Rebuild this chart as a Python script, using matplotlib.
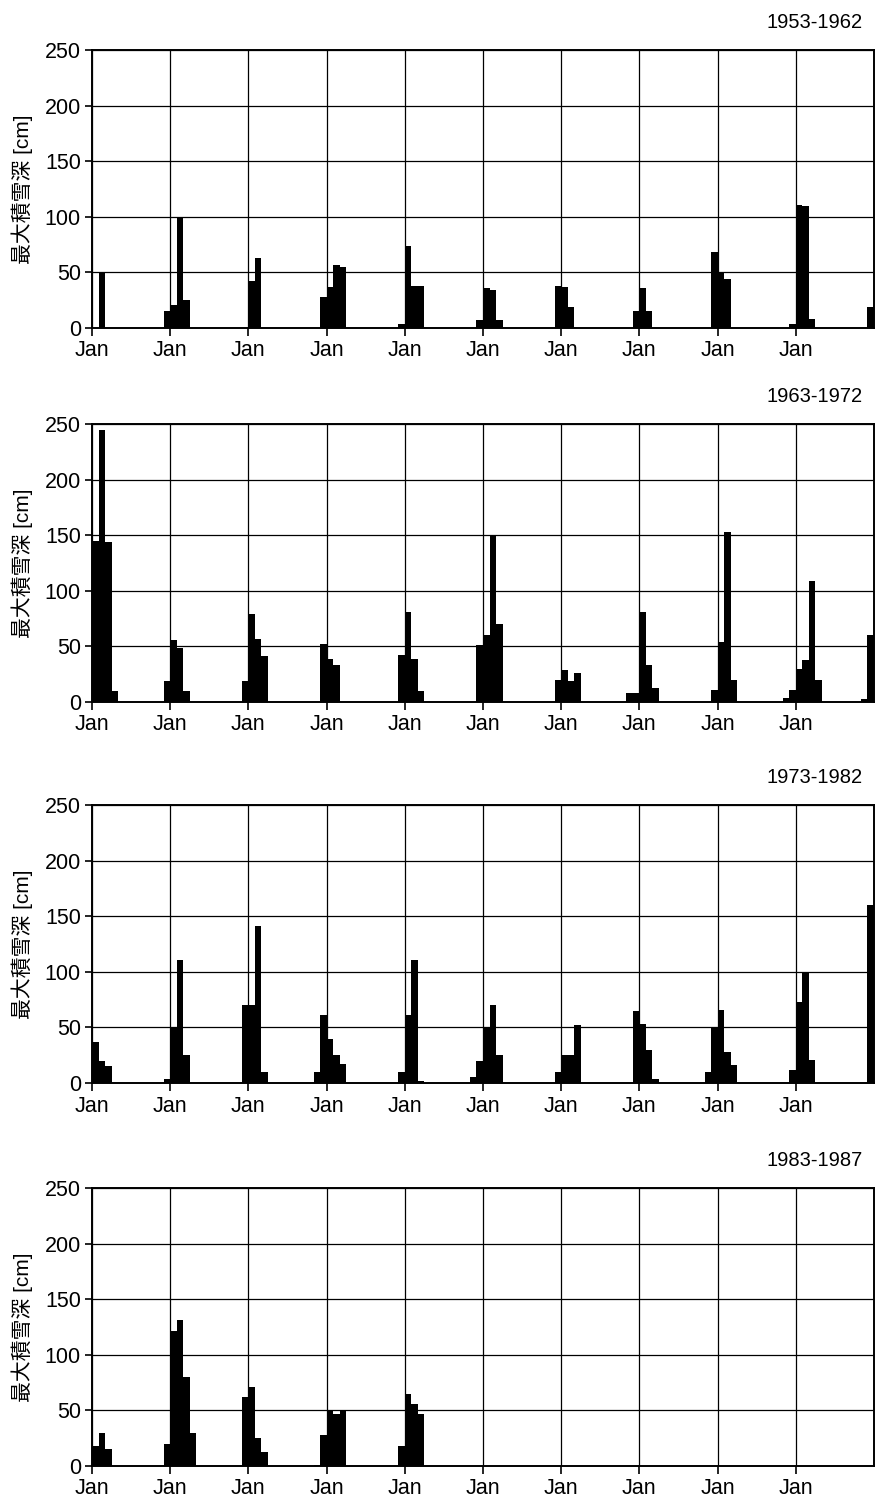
import numpy as np
import matplotlib
matplotlib.use("Agg")
import matplotlib.pyplot as plt

plt.rcParams['font.family'] = ['Liberation Sans', 'Noto Sans CJK JP', 'DejaVu Sans']

# monthly maximum snow depth [cm], one row per year (Jan..Dec)
depth_1953_1962 = [
    [0, 50, 0, 0, 0, 0, 0, 0, 0, 0, 0, 15],
    [21, 100, 25, 0, 0, 0, 0, 0, 0, 0, 0, 0],
    [42, 63, 0, 0, 0, 0, 0, 0, 0, 0, 0, 28],
    [37, 57, 55, 0, 0, 0, 0, 0, 0, 0, 0, 4],
    [74, 38, 38, 0, 0, 0, 0, 0, 0, 0, 0, 7],
    [36, 34, 7, 0, 0, 0, 0, 0, 0, 0, 0, 38],
    [37, 19, 0, 0, 0, 0, 0, 0, 0, 0, 0, 15],
    [36, 15, 0, 0, 0, 0, 0, 0, 0, 0, 0, 68],
    [50, 44, 0, 0, 0, 0, 0, 0, 0, 0, 0, 4],
    [111, 110, 8, 0, 0, 0, 0, 0, 0, 0, 0, 19],
]
depth_1963_1972 = [
    [145, 245, 144, 10, 0, 0, 0, 0, 0, 0, 0, 19],
    [56, 49, 10, 0, 0, 0, 0, 0, 0, 0, 0, 19],
    [79, 57, 41, 0, 0, 0, 0, 0, 0, 0, 0, 52],
    [39, 33, 0, 0, 0, 0, 0, 0, 0, 0, 0, 42],
    [81, 39, 10, 0, 0, 0, 0, 0, 0, 0, 0, 51],
    [60, 150, 70, 0, 0, 0, 0, 0, 0, 0, 0, 20],
    [29, 19, 26, 0, 0, 0, 0, 0, 0, 0, 8, 8],
    [81, 33, 13, 0, 0, 0, 0, 0, 0, 0, 0, 11],
    [54, 153, 20, 0, 0, 0, 0, 0, 0, 0, 4, 11],
    [30, 38, 109, 20, 0, 0, 0, 0, 0, 0, 3, 60],
]
depth_1973_1982 = [
    [37, 20, 15, 0, 0, 0, 0, 0, 0, 0, 0, 4],
    [50, 111, 25, 0, 0, 0, 0, 0, 0, 0, 0, 70],
    [70, 141, 10, 0, 0, 0, 0, 0, 0, 0, 10, 61],
    [40, 25, 17, 0, 0, 0, 0, 0, 0, 0, 0, 10],
    [61, 111, 2, 0, 0, 0, 0, 0, 0, 0, 5, 20],
    [50, 70, 25, 0, 0, 0, 0, 0, 0, 0, 0, 10],
    [25, 25, 52, 0, 0, 0, 0, 0, 0, 0, 0, 65],
    [53, 30, 4, 0, 0, 0, 0, 0, 0, 0, 10, 50],
    [66, 28, 16, 0, 0, 0, 0, 0, 0, 0, 0, 12],
    [73, 100, 21, 0, 0, 0, 0, 0, 0, 0, 0, 160],
]
depth_1983_1987 = [
    [18, 30, 15, 0, 0, 0, 0, 0, 0, 0, 0, 20],
    [121, 131, 80, 30, 0, 0, 0, 0, 0, 0, 0, 62],
    [71, 25, 13, 0, 0, 0, 0, 0, 0, 0, 1, 28],
    [50, 47, 50, 0, 0, 0, 0, 0, 0, 0, 0, 18],
    [65, 56, 47, 0, 0, 0, 0, 0, 0, 0, 0, 0],
]

periods = ['1953-1962', '1963-1972', '1973-1982', '1983-1987']
panels = [depth_1953_1962, depth_1963_1972, depth_1973_1982, depth_1983_1987]
ylabel = '最大積雪深 [cm]'

fig = plt.figure(figsize=(8.76, 15.07), dpi=100)
W, H = 876, 1507
left, right = 92, 874
bottoms = [328, 702, 1083, 1466]
ax_h = 278

for period, rows, bot in zip(periods, panels, bottoms):
    ax = fig.add_axes([left / W, 1 - bot / H, (right - left) / W, ax_h / H])
    vals = np.array(rows).ravel()
    months = np.arange(len(vals))
    ax.bar(months, vals, width=1.0, align='edge', color='black', linewidth=0)

    ax.set_xlim(0, 120)
    ax.set_ylim(0, 250)
    ax.set_xticks(np.arange(0, 120, 12))
    ax.set_xticklabels(['Jan'] * 10)
    ax.set_yticks(np.arange(0, 251, 50))
    ax.grid(True, color='black', linewidth=0.9)
    ax.set_axisbelow(True)
    for s in ax.spines.values():
        s.set_linewidth(1.4)
        s.set_color('black')
    ax.tick_params(axis='both', direction='out', width=1.2,
                   labelsize=15.5, colors='black')
    ax.tick_params(axis='x', length=6, pad=3)
    ax.tick_params(axis='y', length=5, pad=3)
    ax.set_ylabel(ylabel, fontsize=15)
    ax.yaxis.set_label_coords(-(left - 33) / (right - left), 0.5)
    ax.text(0.985, 1.10, period, transform=ax.transAxes, ha='right',
            va='center', fontsize=14.5)

fig.savefig('out.png', dpi=100)
